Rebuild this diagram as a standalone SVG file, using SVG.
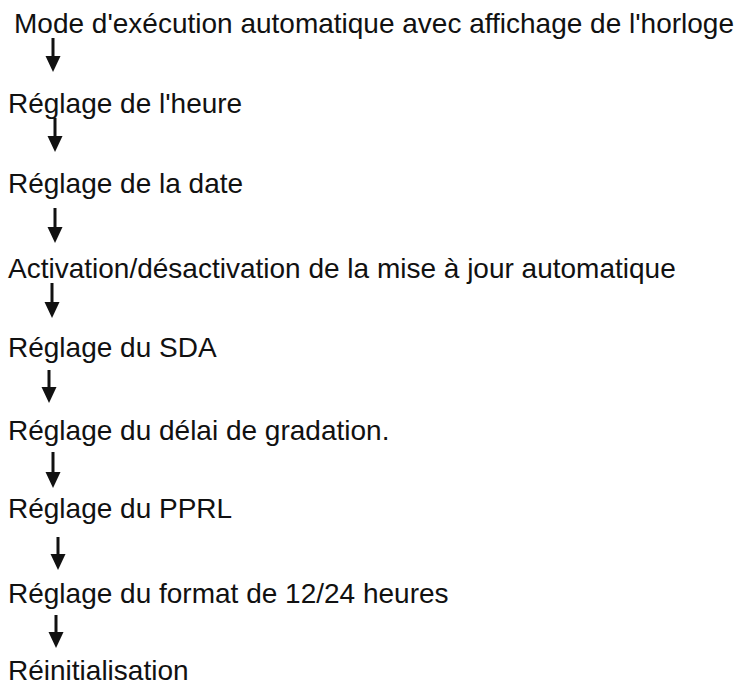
<svg xmlns="http://www.w3.org/2000/svg" width="754" height="687" viewBox="0 0 754 687">
  <style>
    .lbl { font-family: "Liberation Sans", Arial, Helvetica, sans-serif; font-size: 28px; fill: #111; }
    .arr { stroke: #111; stroke-width: 3; fill: none; }
  </style>
  <defs>
    <marker id="head" markerUnits="userSpaceOnUse" markerWidth="16" markerHeight="16" refX="8" refY="7.5" orient="auto">
      <path d="M0,0 L16,7.5 L0,15 Z" fill="#111"/>
    </marker>
  </defs>
  <rect width="754" height="687" fill="#fff"/>
  <g id="n1"><text class="lbl" x="14" y="33">Mode d'exécution automatique avec affichage de l'horloge</text></g>
  <g id="n2"><text class="lbl" x="8" y="113">Réglage de l'heure</text></g>
  <g id="n3"><text class="lbl" x="8" y="193">Réglage de la date</text></g>
  <g id="n4"><text class="lbl" x="8" y="278">Activation/désactivation de la mise à jour automatique</text></g>
  <g id="n5"><text class="lbl" x="8" y="357">Réglage du SDA</text></g>
  <g id="n6"><text class="lbl" x="8" y="440">Réglage du délai de gradation.</text></g>
  <g id="n7"><text class="lbl" x="8" y="518">Réglage du PPRL</text></g>
  <g id="n8"><text class="lbl" x="8" y="603">Réglage du format de 12/24 heures</text></g>
  <g id="n9"><text class="lbl" x="8" y="680">Réinitialisation</text></g>
  <g id="connectors">
    <line class="arr" x1="53" y1="38" x2="53" y2="64" marker-end="url(#head)"/>
    <line class="arr" x1="55" y1="118" x2="55" y2="144" marker-end="url(#head)"/>
    <line class="arr" x1="55" y1="208" x2="55" y2="235" marker-end="url(#head)"/>
    <line class="arr" x1="52" y1="283" x2="52" y2="310" marker-end="url(#head)"/>
    <line class="arr" x1="49" y1="370" x2="49" y2="395" marker-end="url(#head)"/>
    <line class="arr" x1="53" y1="452" x2="53" y2="480" marker-end="url(#head)"/>
    <line class="arr" x1="58" y1="537" x2="58" y2="562" marker-end="url(#head)"/>
    <line class="arr" x1="56" y1="615" x2="56" y2="640" marker-end="url(#head)"/>
  </g>
</svg>
